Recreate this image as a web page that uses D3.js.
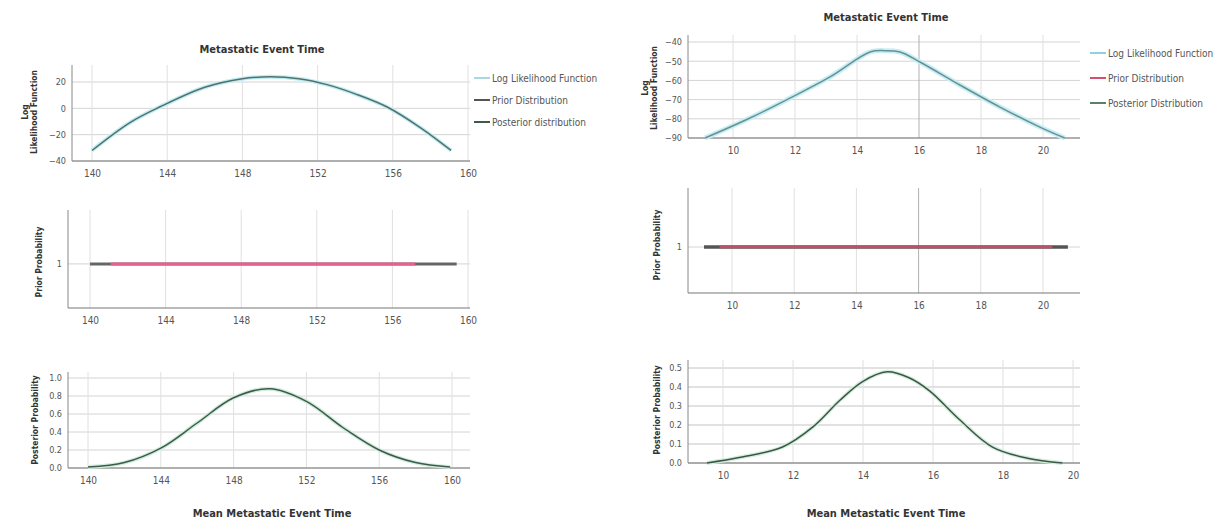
<!DOCTYPE html>
<html>
<head>
    <meta charset="utf-8">
    <title>Metastatic Event Time</title>
    <style>
        body { margin: 0; background: #fff; }
        text { font-family: "Liberation Sans Narrow", "DejaVu Sans Condensed", "Liberation Sans", sans-serif; fill: #333; }
    </style>
</head>
<script src="https://d3js.org/d3.v7.min.js"></script>
<body>
<div id="chart"></div>
<script>
    // tick labels
    const leftXTicks = [140, 144, 148, 152, 156, 160];
    const rightXTicks = [10, 12, 14, 16, 18, 20];
    const llLeftTicks = [-40, -20, 0, 20];
    const llRightTicks = [-90, -80, -70, -60, -50, -40];
    const priorTicks = [1];
    const postLeftTicks = [0, 0.2, 0.4, 0.6, 0.8, 1.0];
    const postRightTicks = [0, 0.1, 0.2, 0.3, 0.4, 0.5];

    // log likelihood (left)
    const llLeftX = [140, 142, 143.6, 146, 148, 149.5, 151, 152.5, 154, 155.7, 157.5, 159.1];
    const llLeftY = [-32, -11, 1, 16, 22.5, 24, 22.5, 18, 11, 1, -15, -32];
    // prior (left)
    const flatLeftX = [140, 159.4];
    const flatLeftY = [1, 1];
    const priorLeftX = [141.1, 157.2];
    const priorLeftY = [1, 1];
    // posterior (left)
    const postLeftX = [140, 142, 144, 146, 148, 150, 152, 154, 156, 158, 159.9];
    const postLeftY = [0.01, 0.06, 0.22, 0.5, 0.78, 0.88, 0.74, 0.45, 0.2, 0.06, 0.01];

    // log likelihood (right)
    const llRightX = [9.1, 10.55, 11.84, 13.13, 14.42, 14.9, 15.39, 16.03, 17.32, 18.61, 19.9, 20.7];
    const llRightY = [-90, -79.6, -69.2, -58.2, -45.2, -44.5, -45.2, -50.4, -62.4, -73.9, -84.3, -90];
    // prior (right)
    const flatRightX = [9.1, 20.8];
    const flatRightY = [1, 1];
    const priorRightX = [9.6, 20.3];
    const priorRightY = [1, 1];
    // posterior (right)
    const postRightX = [9.54, 10.5, 11.7, 12.57, 13.34, 14, 14.69, 15.3, 15.9, 16.77, 17.7, 18.7, 19.7];
    const postRightY = [0.0, 0.03, 0.084, 0.19, 0.33, 0.43, 0.48, 0.45, 0.38, 0.226, 0.084, 0.025, 0.0];

    const svg = d3.select("#chart").append("svg")
        .attr("width", 1225)
        .attr("height", 529);

    svg.append("rect").attr("width", 1225).attr("height", 529).attr("fill", "#fff");

    function zip(xs, ys) {
        return xs.map(function (d, i) { return [d, ys[i]]; });
    }

    function panel(p) {
        var x = d3.scaleLinear().domain(p.xDomain).range(p.xRange);
        var y = d3.scaleLinear().domain(p.yDomain).range(p.yRange);
        var g = svg.append("g");

        // grid
        g.selectAll(".hgrid").data(p.yTicks).enter().append("line")
            .attr("x1", p.axisX).attr("x2", p.right)
            .attr("y1", function (d) { return y(d); })
            .attr("y2", function (d) { return y(d); })
            .attr("stroke", p.hColor || "#d4d4d4");
        g.selectAll(".vgrid").data(p.xTicks).enter().append("line")
            .attr("x1", function (d) { return x(d); })
            .attr("x2", function (d) { return x(d); })
            .attr("y1", p.top).attr("y2", p.axisY)
            .attr("stroke", function (d) { return d === p.darkTick ? "#b0b0b0" : "#e0e0e0"; });

        // axes
        var xa = g.append("g")
            .attr("transform", "translate(0," + p.axisY + ")")
            .call(d3.axisBottom(x).tickValues(p.xTicks).tickSize(0).tickPadding(9).tickFormat(d3.format("d")));
        xa.select(".domain").remove();
        xa.selectAll("text").style("font-size", "10px").style("fill", "#555");

        var ya = g.append("g")
            .attr("transform", "translate(" + p.axisX + ",0)")
            .call(d3.axisLeft(y).tickValues(p.yTicks).tickSize(0).tickPadding(6).tickFormat(d3.format(p.yFormat)));
        ya.select(".domain").remove();
        ya.selectAll("text").style("font-size", "9px").style("fill", "#555");

        g.append("line").attr("x1", p.axisX).attr("x2", p.right)
            .attr("y1", p.axisY).attr("y2", p.axisY).attr("stroke", "#777").attr("stroke-width", 1.2);
        g.append("line").attr("x1", p.axisX).attr("x2", p.axisX)
            .attr("y1", p.top).attr("y2", p.axisY).attr("stroke", "#888");

        // lines
        var line = d3.line()
            .x(function (d) { return x(d[0]); })
            .y(function (d) { return y(d[1]); })
            .curve(d3.curveCatmullRom);
        p.series.forEach(function (s) {
            g.append("path")
                .datum(zip(s.x, s.y))
                .attr("d", line)
                .attr("fill", "none")
                .attr("stroke", s.color)
                .attr("stroke-width", s.width)
                .attr("stroke-opacity", s.opacity || 1);
        });

        // y label
        var yl = g.append("text")
            .attr("transform", "translate(" + p.labelX + "," + p.labelY + ") rotate(-90)")
            .attr("text-anchor", "middle")
            .style("font-size", "8.5px")
            .style("font-weight", "bold");
        p.yLabel.forEach(function (t, i) {
            yl.append("tspan").attr("x", 0).attr("dy", i === 0 ? 0 : 9).text(t);
        });
    }

    function legend(lx, ly, gap, items) {
        items.forEach(function (it, i) {
            svg.append("line")
                .attr("x1", lx).attr("x2", lx + 16)
                .attr("y1", ly + i * gap).attr("y2", ly + i * gap)
                .attr("stroke", it.color).attr("stroke-width", 2);
            svg.append("text")
                .attr("x", lx + 18).attr("y", ly + i * gap + 3.5)
                .style("font-size", "10px")
                .style("fill", "#555")
                .text(it.label);
        });
    }

    // ---- left column ----
    panel({
        xDomain: [140, 160], xRange: [92, 468], yDomain: [-40, 20], yRange: [161, 82],
        xTicks: leftXTicks, yTicks: llLeftTicks, yFormat: "d",
        axisX: 72, axisY: 161, top: 65, right: 470,
        labelX: 28, labelY: 112, yLabel: ["Log", "Likelihood Function"],
        series: [
            { x: llLeftX, y: llLeftY, color: "#bfeef2", width: 4 },
            { x: llLeftX, y: llLeftY, color: "#55706f", width: 1.5 }
        ]
    });
    panel({
        xDomain: [140, 160], xRange: [90, 468], yDomain: [0, 2.2], yRange: [308, 211],
        xTicks: leftXTicks, yTicks: priorTicks, yFormat: "d",
        axisX: 68, axisY: 308, top: 210, right: 470,
        labelX: 42, labelY: 262, yLabel: ["Prior Probability"],
        series: [
            { x: flatLeftX, y: flatLeftY, color: "#666", width: 3 },
            { x: priorLeftX, y: priorLeftY, color: "#ea5f8f", width: 3 }
        ]
    });
    panel({
        xDomain: [140, 160], xRange: [88, 452], yDomain: [0, 1], yRange: [468, 378],
        xTicks: leftXTicks, yTicks: postLeftTicks, yFormat: ".1f",
        axisX: 68, axisY: 468, top: 372, right: 470,
        labelX: 38, labelY: 420, yLabel: ["Posterior Probability"],
        series: [
            { x: postLeftX, y: postLeftY, color: "#cfeedd", width: 4 },
            { x: postLeftX, y: postLeftY, color: "#3f5a4a", width: 1.5 }
        ]
    });

    // ---- right column ----
    panel({
        xDomain: [10, 20], xRange: [733, 1043], yDomain: [-90, -40], yRange: [138, 42],
        xTicks: rightXTicks, yTicks: llRightTicks, yFormat: "d",
        axisX: 688, axisY: 138, top: 35, right: 1080, darkTick: 16,
        labelX: 648, labelY: 88, yLabel: ["Log", "Likelihood Function"],
        series: [
            { x: llRightX, y: llRightY, color: "#c6eef6", width: 5 },
            { x: llRightX, y: llRightY, color: "#6a9090", width: 1.5 }
        ]
    });
    panel({
        xDomain: [10, 20], xRange: [732, 1043], yDomain: [0, 2.24], yRange: [293, 190],
        xTicks: rightXTicks, yTicks: priorTicks, yFormat: "d",
        axisX: 688, axisY: 293, top: 188, right: 1080, darkTick: 16,
        labelX: 660, labelY: 245, yLabel: ["Prior Probability"],
        series: [
            { x: flatRightX, y: flatRightY, color: "#555", width: 3.5 },
            { x: priorRightX, y: priorRightY, color: "#d2506e", width: 2.5, opacity: 0.85 }
        ]
    });
    panel({
        xDomain: [10, 20], xRange: [723, 1073], yDomain: [0, 0.5], yRange: [463, 368],
        xTicks: rightXTicks, yTicks: postRightTicks, yFormat: ".1f",
        axisX: 688, axisY: 463, top: 360, right: 1080, hColor: "#c4c4c4",
        labelX: 660, labelY: 410, yLabel: ["Posterior Probability"],
        series: [
            { x: postRightX, y: postRightY, color: "#d3efdc", width: 4 },
            { x: postRightX, y: postRightY, color: "#3c5548", width: 1.5 }
        ]
    });

    // titles
    svg.append("text").attr("x", 262).attr("y", 53).attr("text-anchor", "middle")
        .style("font-size", "11px").style("font-weight", "bold").text("Metastatic Event Time");
    svg.append("text").attr("x", 886).attr("y", 21).attr("text-anchor", "middle")
        .style("font-size", "11px").style("font-weight", "bold").text("Metastatic Event Time");

    // x labels
    svg.append("text").attr("x", 272).attr("y", 517).attr("text-anchor", "middle")
        .style("font-size", "11px").style("font-weight", "bold").text("Mean Metastatic Event Time");
    svg.append("text").attr("x", 886).attr("y", 517).attr("text-anchor", "middle")
        .style("font-size", "11px").style("font-weight", "bold").text("Mean Metastatic Event Time");

    // legends
    legend(474, 78, 22, [
        { label: "Log Likelihood Function", color: "#a9d9de" },
        { label: "Prior Distribution", color: "#555" },
        { label: "Posterior distribution", color: "#3f5a4a" }
    ]);
    legend(1090, 53, 25, [
        { label: "Log Likelihood Function", color: "#8fd0e2" },
        { label: "Prior Distribution", color: "#d2506e" },
        { label: "Posterior Distribution", color: "#5c7f6a" }
    ]);
</script>
</body>
</html>
